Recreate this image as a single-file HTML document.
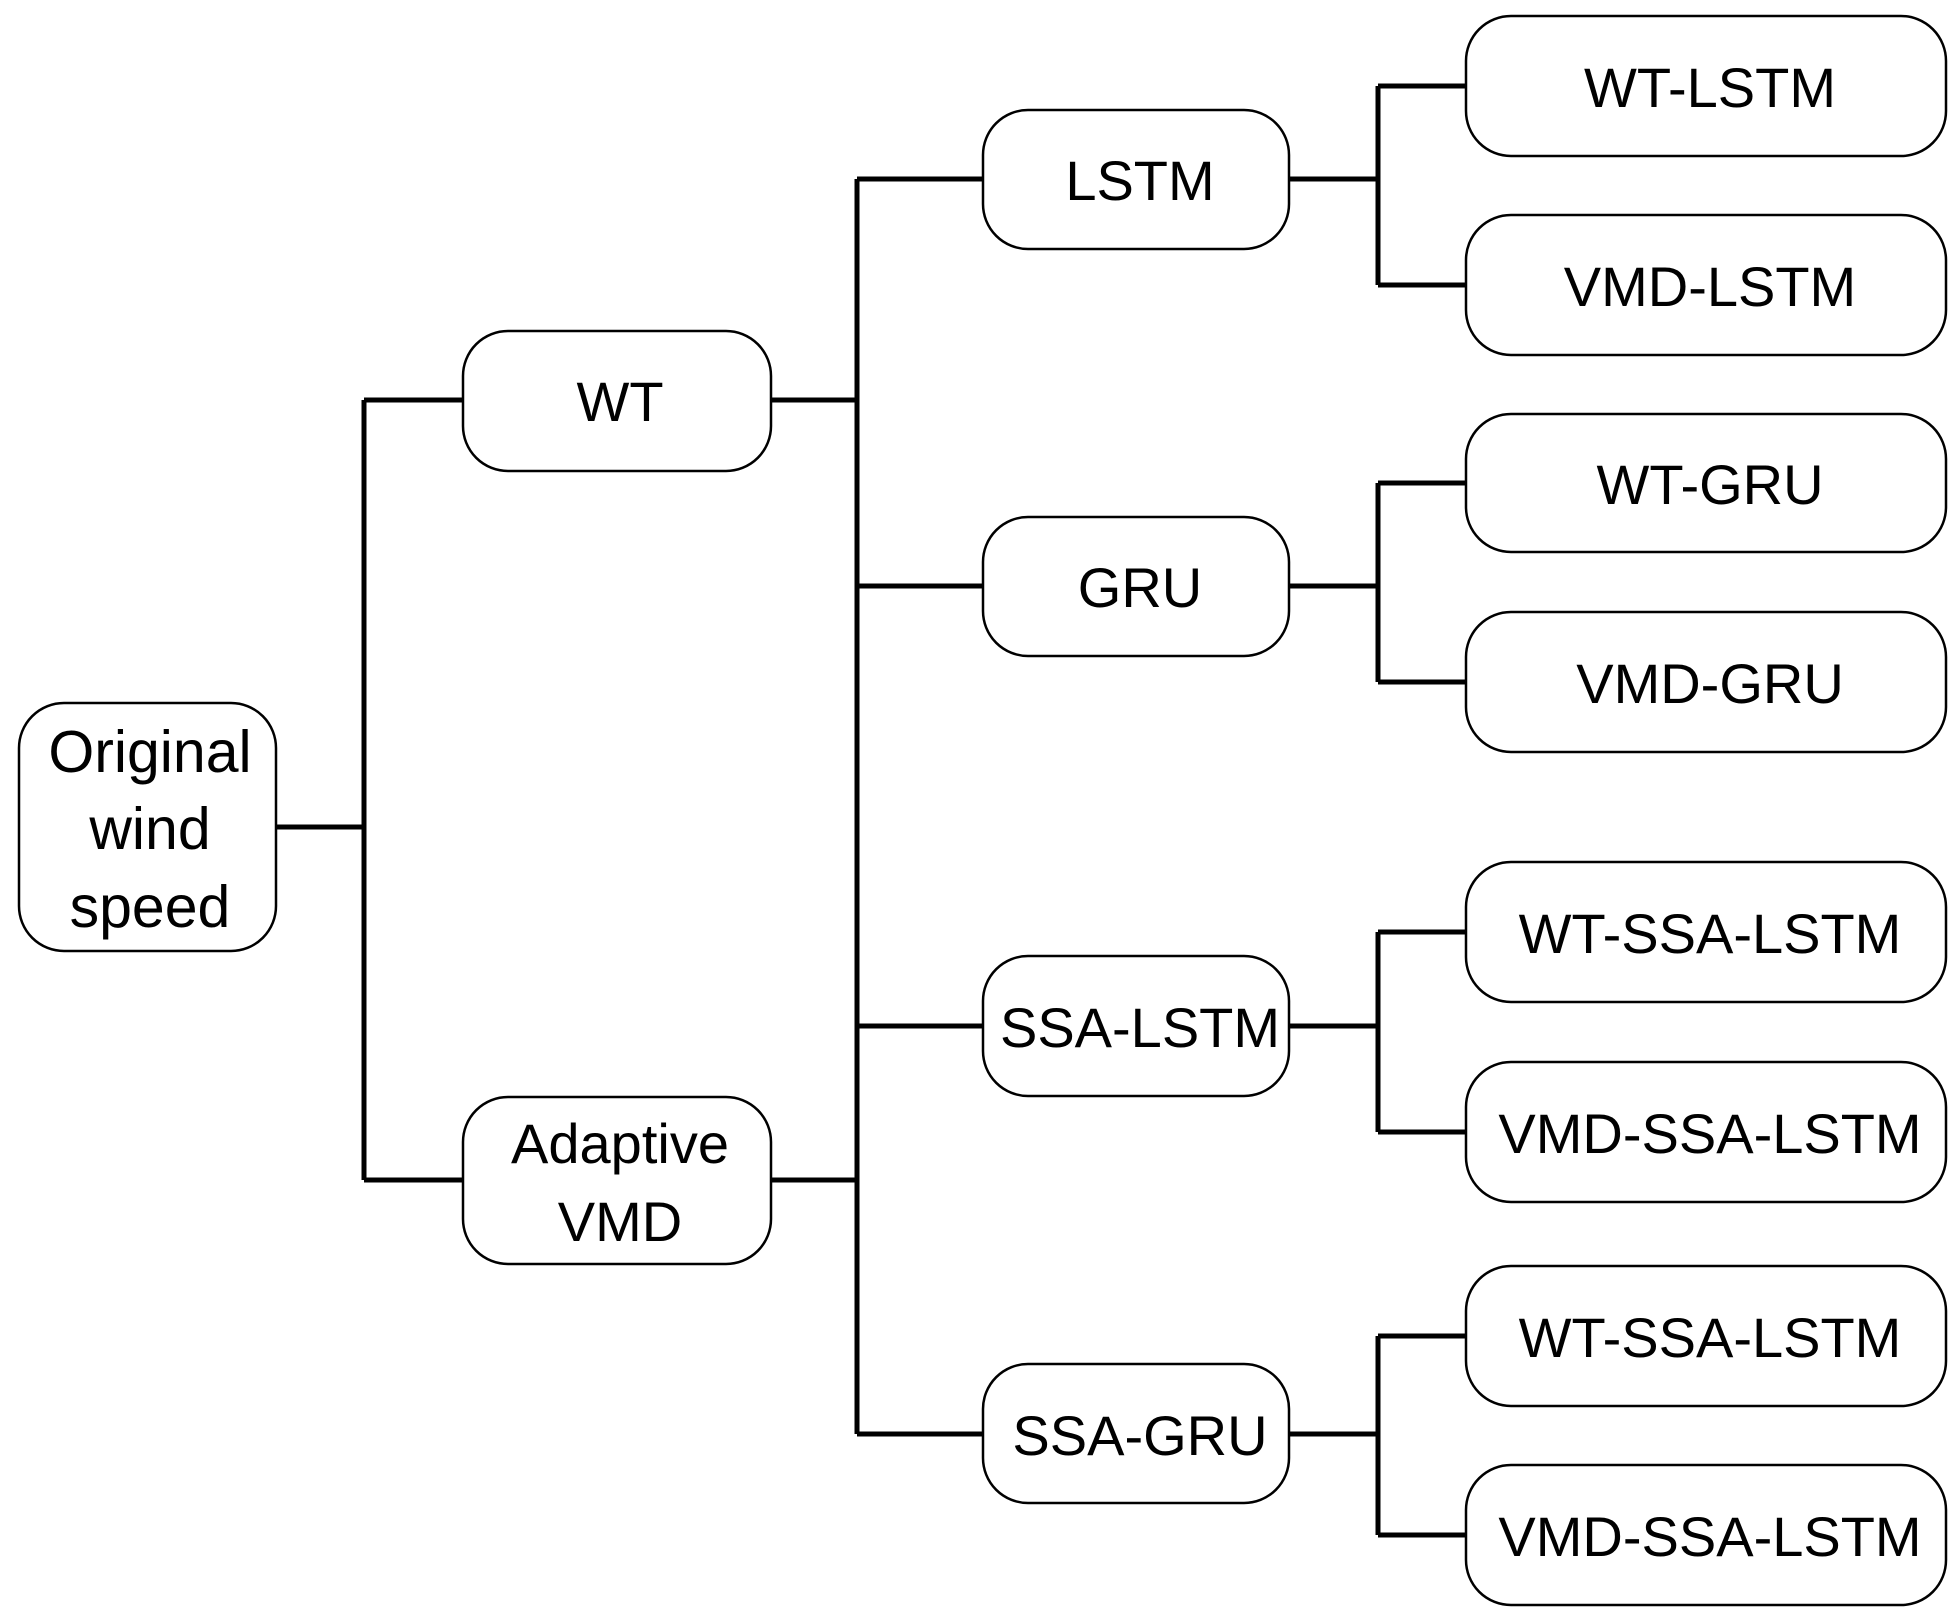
<!DOCTYPE html>
<html><head><meta charset="utf-8"><style>html,body{margin:0;padding:0;background:#fff}svg{display:block}</style></head>
<body>
<svg width="1959" height="1622" viewBox="0 0 1959 1622" xmlns="http://www.w3.org/2000/svg" font-family="Liberation Sans, sans-serif" font-size="56" text-anchor="middle">
<g fill="none" stroke="#000" stroke-width="5">
<path d="M276 827H364M364 400V1180M364 400H463M364 1180H463"/>
<path d="M771 400H857M771 1180H857M857 179V1434M857 179H983M857 586H983M857 1026H983M857 1434H983"/>
<path d="M1289 179H1378M1378 86V285M1378 86H1466M1378 285H1466"/>
<path d="M1289 586H1378M1378 483V682M1378 483H1466M1378 682H1466"/>
<path d="M1289 1026H1378M1378 932V1132M1378 932H1466M1378 1132H1466"/>
<path d="M1289 1434H1378M1378 1336V1535M1378 1336H1466M1378 1535H1466"/>
</g>
<g fill="#fff" stroke="#000" stroke-width="2.5">
<rect x="19" y="703" width="257" height="248" rx="45"/>
<rect x="463" y="331" width="308" height="140" rx="45"/>
<rect x="463" y="1097" width="308" height="167" rx="45"/>
<rect x="983" y="110" width="306" height="139" rx="45"/>
<rect x="983" y="517" width="306" height="139" rx="45"/>
<rect x="983" y="956" width="306" height="140" rx="45"/>
<rect x="983" y="1364" width="306" height="139" rx="45"/>
<rect x="1466" y="16" width="480" height="140" rx="45"/>
<rect x="1466" y="215" width="480" height="140" rx="45"/>
<rect x="1466" y="414" width="480" height="138" rx="45"/>
<rect x="1466" y="612" width="480" height="140" rx="45"/>
<rect x="1466" y="862" width="480" height="140" rx="45"/>
<rect x="1466" y="1062" width="480" height="140" rx="45"/>
<rect x="1466" y="1266" width="480" height="140" rx="45"/>
<rect x="1466" y="1465" width="480" height="140" rx="45"/>
</g>
<g fill="#000">
<text x="150" y="772" font-size="59">Original</text>
<text x="150" y="849" font-size="59">wind</text>
<text x="150" y="927" font-size="59">speed</text>
<text x="620" y="421">WT</text>
<text x="620" y="1163">Adaptive</text>
<text x="620" y="1241">VMD</text>
<text x="1140" y="200">LSTM</text>
<text x="1140" y="607">GRU</text>
<text x="1140" y="1047">SSA-LSTM</text>
<text x="1140" y="1455">SSA-GRU</text>
<text x="1710" y="107">WT-LSTM</text>
<text x="1710" y="306">VMD-LSTM</text>
<text x="1710" y="504">WT-GRU</text>
<text x="1710" y="703">VMD-GRU</text>
<text x="1710" y="953">WT-SSA-LSTM</text>
<text x="1710" y="1153">VMD-SSA-LSTM</text>
<text x="1710" y="1357">WT-SSA-LSTM</text>
<text x="1710" y="1556">VMD-SSA-LSTM</text>
</g>
</svg>
</body></html>
